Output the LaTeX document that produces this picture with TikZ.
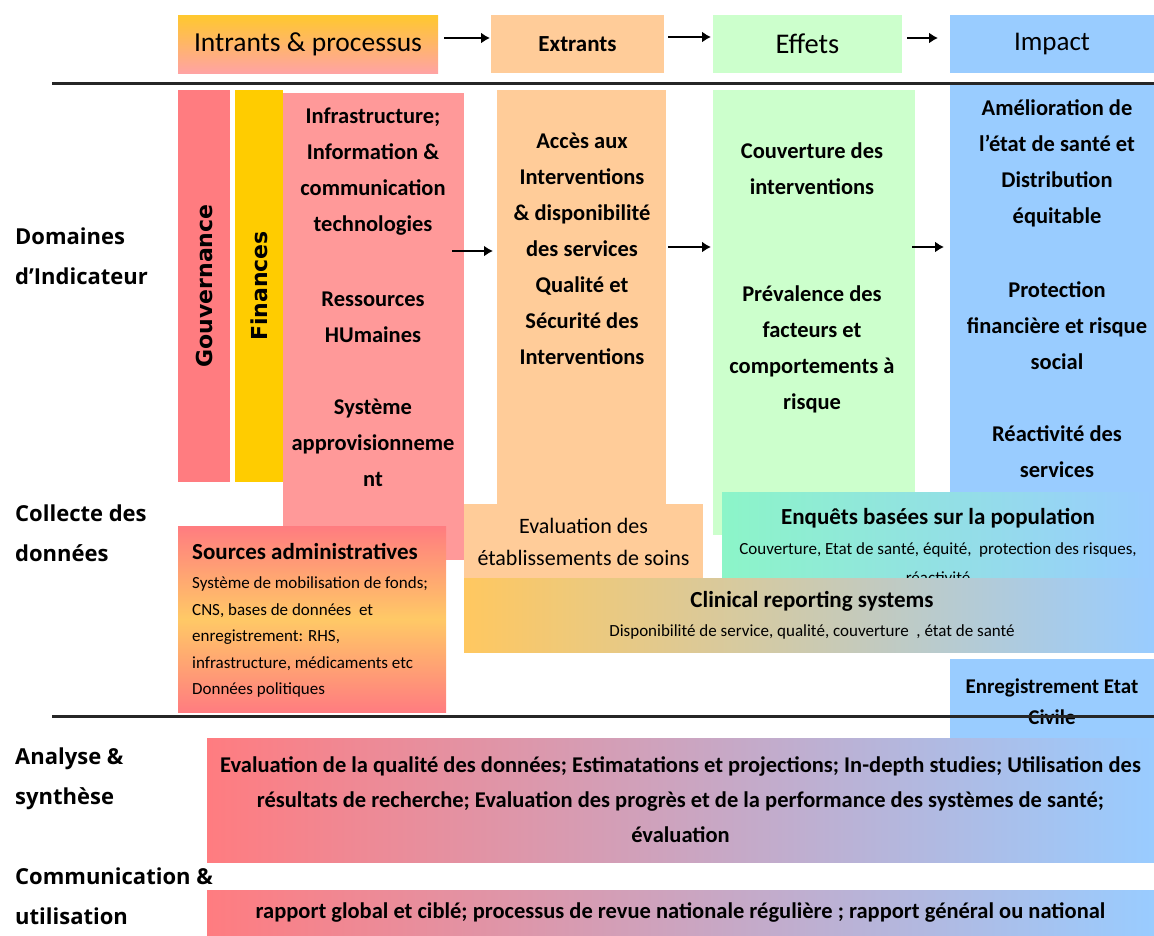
\documentclass[tikz,border=0pt]{standalone}
\usepackage{fontspec}
\setmainfont{Carlito}
\newfontfamily\etiqfont{Open Sans}
\newfontfamily\vertfont{DejaVu Sans}
\usetikzlibrary{arrows.meta}
\definecolor{rouge}{HTML}{FF7C80}
\definecolor{saumon}{HTML}{FF9999}
\definecolor{jauneor}{HTML}{FFCC00}
\definecolor{orhaut}{HTML}{FFC82E}
\definecolor{rosebas}{HTML}{FFA3A3}
\definecolor{peche}{HTML}{FFCC99}
\definecolor{vertpale}{HTML}{CCFFCC}
\definecolor{menthe}{HTML}{8CF5C8}
\definecolor{bleu}{HTML}{99CCFF}
\definecolor{jaune}{HTML}{FFC860}
\definecolor{jaunemid}{HTML}{FFC966}
\begin{document}
\begin{tikzpicture}[x = 1pt, y = -1pt,
	bloc/.style = {inner sep = 0, outer sep = 0},
	fleche/.style = {line width = 2.4pt, -{Latex[length = 9pt, width = 11pt]}},
	regle/.style = {line width = 3pt, black!85},
	texte/.style = {align = center, font = \fontsize{22.5}{36}\selectfont\bfseries},
	petit/.style = {align = center, font = \fontsize{17}{29}\selectfont},
	titre/.style = {align = center, font = \fontsize{23}{30}\selectfont\bfseries},
	etiq/.style = {anchor = west, align = left, inner sep = 0, font = \fontsize{22}{40}\selectfont\etiqfont\bfseries},
	vert/.style = {rotate = 90, font = \fontsize{22}{24}\selectfont\vertfont\bfseries}]
	\useasboundingbox (0, 0) rectangle (1154, 935);
	\node (intrants) at (308, 44) [bloc, minimum width = 260pt, minimum height = 58pt, top color = orhaut, bottom color = rosebas, font = \fontsize{27.5}{30}\selectfont] {Intrants \& processus};
	\node (extrants) at (577.5, 44) [bloc, minimum width = 173pt, minimum height = 58pt, fill = peche, font = \fontsize{23}{26}\selectfont\bfseries] {Extrants};
	\node (effets) at (807.5, 44) [bloc, minimum width = 189pt, minimum height = 58pt, fill = vertpale, font = \fontsize{28.5}{30}\selectfont] {Effets};
	\node (impact) at (1052, 44) [bloc, minimum width = 204pt, minimum height = 58pt, fill = bleu, font = \fontsize{27}{30}\selectfont] {Impact};
		\draw[fleche, shorten <= 6pt, shorten >= 1pt] ([yshift = 6pt]intrants.east) -- ([yshift = 6pt]extrants.west);
		\draw[fleche, shorten <= 4pt, shorten >= 2pt] ([yshift = 7pt]extrants.east) -- ([yshift = 7pt]effets.west);
		\draw[fleche, shorten <= 5pt, shorten >= 12pt] ([yshift = 6pt]effets.east) -- ([yshift = 6pt]impact.west);

	\node (colimpact) at (1052, 331.5) [bloc, minimum width = 204pt, minimum height = 493pt, fill = bleu] {};
	\node (coleffets) at (814, 312.5) [bloc, minimum width = 202pt, minimum height = 445pt, fill = vertpale] {};
	\node (colextrants) at (581.5, 297.5) [bloc, minimum width = 169pt, minimum height = 415pt, fill = peche] {};
	\node (gouv) at (204, 286) [bloc, minimum width = 392pt, minimum height = 52pt, fill = rouge, vert] {Gouvernance};
	\node (fin) at (259, 286) [bloc, minimum width = 392pt, minimum height = 48pt, fill = jauneor, vert] {Finances};
	\node (infra) at (373.5, 326.5) [bloc, minimum width = 181pt, minimum height = 467pt, fill = saumon] {};

	\node (infra1) at (373, 172) [texte] {Infrastructure;\\Information \&\\communication\\technologies};
	\node (infra2) at (373, 317) [texte] {Ressources\\HUmaines};
	\node (infra3) at (373, 443) [texte] {Système\\approvisionneme\\nt};
	\node (acces) at (582, 249) [texte] {Accès aux\\Interventions\\\& disponibilité\\des services\\Qualité et\\Sécurité des\\Interventions};
	\node (couv) at (812, 169) [texte] {Couverture des\\interventions};
	\node (preval) at (812, 349) [texte] {Prévalence des\\facteurs et\\comportements à\\risque};
	\node (amelio) at (1057, 163) [texte] {Amélioration de\\l’état de santé et\\Distribution\\équitable};
	\node (protect) at (1057, 326) [texte] {Protection\\financière et risque\\social};
	\node (reactiv) at (1057, 452) [texte] {Réactivité des\\services};

	\coordinate (f1) at (452, 251);
	\coordinate (f2) at (668, 247);
	\coordinate (f3) at (912, 247);
		\draw[fleche, shorten >= 4pt] (f1) -- (f1 -| colextrants.west);
		\draw[fleche, shorten >= 2pt] (f2) -- (f2 -| coleffets.west);
		\draw[fleche, shorten >= 6pt] (f3) -- (f3 -| colimpact.west);

	\node (evaletab) at (583.5, 542) [bloc, minimum width = 239pt, minimum height = 76pt, fill = peche, align = center, font = \fontsize{22}{32}\selectfont] {Evaluation des\\établissements de soins};
	\node (enquetes) at (938, 536) [bloc, minimum width = 432pt, minimum height = 88pt, left color = menthe, right color = bleu] {};
	\node (enqtitre) at (938, 518) [titre] {Enquêts basées sur la population};
	\node (enqdetail) at (938, 563) [petit] {Couverture, Etat de santé, équité,\ \ protection des risques,\\réactivité};
	\node (clinical) at (809, 615) [bloc, minimum width = 690pt, minimum height = 74pt, left color = jaune, right color = bleu] {};
	\node (clintitre) at (812, 601) [titre] {Clinical reporting systems};
	\node (clindetail) at (812, 632) [petit] {Disponibilité de service, qualité, couverture\ \ , état de santé};

	\node (sources) at (312, 619) [bloc, minimum width = 268pt, minimum height = 186pt, top color = rouge, bottom color = rouge, middle color = jaunemid] {};
	\node (srctitre) at (192, 551) [anchor = west, inner sep = 0, font = \fontsize{23}{26}\selectfont\bfseries] {Sources administratives};
	\node (srcdetail) at (192, 637) [anchor = west, inner sep = 0, align = left, font = \fontsize{17}{26.5}\selectfont] {Système de mobilisation de fonds;\\CNS, bases de données\ \ et\\enregistrement: RHS,\\infrastructure, médicaments etc\\Données politiques};
	\node (etatcivil) at (1052, 702) [bloc, minimum width = 204pt, minimum height = 86pt, fill = bleu, align = center, font = \fontsize{21}{31}\selectfont\bfseries] {Enregistrement Etat\\Civile};

	\coordinate (r1) at (52, 83);
	\coordinate (r2) at (52, 716);
		\draw[regle] (r1) -- (r1 -| colimpact.east);
		\draw[regle] (r2) -- (r2 -| etatcivil.east);

	\node (analyse) at (680.5, 800) [bloc, minimum width = 947pt, minimum height = 124pt, left color = rouge, right color = bleu, align = center, font = \fontsize{22.5}{35}\selectfont\bfseries] {Evaluation de la qualité des données; Estimatations et projections; In-depth studies; Utilisation des\\résultats de recherche; Evaluation des progrès et de la performance des systèmes de santé;\\évaluation};
	\node (rapport) at (680.5, 912.5) [bloc, minimum width = 947pt, minimum height = 45pt, left color = rouge, right color = bleu, font = \fontsize{22.5}{24}\selectfont\bfseries] {rapport global et ciblé; processus de revue nationale régulière ; rapport général ou national};

	\node (domaines) at (15, 256) [etiq] {Domaines\\d’Indicateur};
	\node (collecte) at (15, 533) [etiq] {Collecte des\\données};
	\node (synthese) at (15, 779) [etiq] {Analyse \&\\synthèse};
	\node (commun) at (15, 896) [etiq] {Communication \&\\utilisation};
\end{tikzpicture}
\end{document}
